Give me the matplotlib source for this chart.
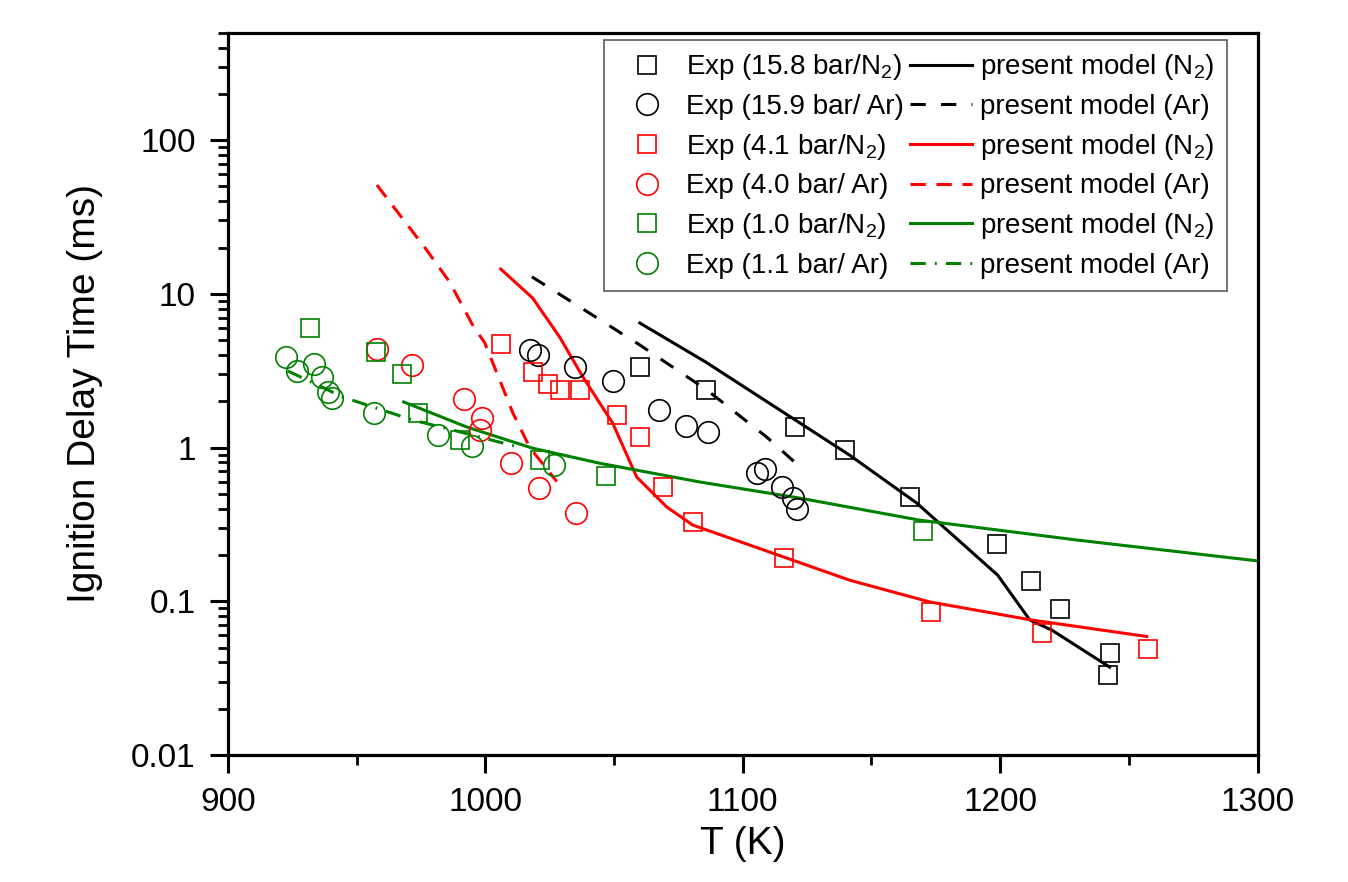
import numpy as np
import matplotlib
matplotlib.use("Agg")
import matplotlib.pyplot as plt
from matplotlib.ticker import LogLocator, MultipleLocator, FixedFormatter, FixedLocator

plt.rcParams['font.family'] = ['Liberation Sans', 'DejaVu Sans']
plt.rcParams['mathtext.fontset'] = 'custom'
plt.rcParams['mathtext.rm'] = 'Liberation Sans'
plt.rcParams['mathtext.it'] = 'Liberation Sans'

# experiments, 15.8 bar / N2
T_exp_158_n2 = [1060.0, 1085.6, 1120.2, 1139.6, 1164.9, 1198.6, 1211.8, 1223.1, 1242.5, 1241.7]
tau_exp_158_n2 = [3.34, 2.37, 1.36, 0.96, 0.48, 0.235, 0.135, 0.089, 0.046, 0.033]
# experiments, 15.9 bar / Ar
T_exp_159_ar = [1017.3, 1020.4, 1034.8, 1049.5, 1067.4, 1077.9, 1086.4, 1105.4, 1108.5, 1115.1, 1119.4, 1121.0]
tau_exp_159_ar = [4.3, 4.0, 3.34, 2.71, 1.75, 1.38, 1.26, 0.68, 0.72, 0.55, 0.47, 0.40]
# experiments, 4.1 bar / N2
T_exp_41_n2 = [1006.0, 1018.4, 1024.3, 1028.9, 1036.7, 1051.1, 1060.0, 1068.9, 1080.6, 1115.9, 1173.0, 1216.1, 1257.3]
tau_exp_41_n2 = [4.71, 3.10, 2.59, 2.37, 2.37, 1.63, 1.17, 0.553, 0.327, 0.191, 0.085, 0.062, 0.049]
# experiments, 4.0 bar / Ar
T_exp_40_ar = [957.9, 971.5, 991.7, 998.6, 998.1, 1009.9, 1020.8, 1035.1]
tau_exp_40_ar = [4.38, 3.44, 2.07, 1.56, 1.30, 0.79, 0.545, 0.375]
# experiments, 1.0 bar / N2
T_exp_10_n2 = [931.8, 957.5, 967.6, 973.8, 990.1, 1021.2, 1046.8, 1169.9]
tau_exp_10_n2 = [5.98, 4.18, 3.01, 1.68, 1.12, 0.83, 0.65, 0.286]
# experiments, 1.1 bar / Ar
T_exp_11_ar = [922.5, 926.8, 933.4, 936.5, 938.8, 940.4, 956.7, 981.6, 994.8, 1026.6]
tau_exp_11_ar = [3.88, 3.15, 3.49, 2.88, 2.30, 2.10, 1.68, 1.21, 1.02, 0.77]

# model curves
T_mod_158_n2 = [1060.0, 1085.6, 1141.6, 1167.6, 1199.0, 1211.5, 1220.0, 1242.5]
tau_mod_158_n2 = [6.46, 3.6, 0.89, 0.435, 0.148, 0.0755, 0.065, 0.0373]
T_mod_159_ar = [1018.1, 1035.5, 1060.0, 1086.0, 1109.3, 1121.4]
tau_mod_159_ar = [12.9, 8.45, 4.65, 2.37, 1.17, 0.77]
T_mod_41_n2 = [1006.0, 1018.4, 1028.9, 1037.9, 1049.5, 1058.8, 1070.5, 1080.6, 1141.6, 1172.6, 1212.2, 1256.9]
tau_mod_41_n2 = [14.5, 9.38, 5.23, 2.88, 1.44, 0.643, 0.41, 0.313, 0.137, 0.099, 0.0755, 0.059]
T_mod_40_ar = [957.9, 977.3, 986.2, 995.1, 999.8, 1005.6, 1010.7, 1017.3, 1027.8]
tau_mod_40_ar = [51.0, 19.2, 11.9, 6.26, 4.79, 2.75, 1.68, 1.0, 0.60]
T_mod_10_n2 = [968.3, 992.8, 1018.4, 1044.5, 1083.3, 1122.1, 1168.7, 1230.0, 1300.0]
tau_mod_10_n2 = [1.98, 1.36, 0.99, 0.79, 0.597, 0.469, 0.337, 0.25, 0.183]
T_mod_11_ar = [923.3, 944.7, 971.8, 987.4, 1012.6]
tau_mod_11_ar = [3.15, 2.13, 1.51, 1.30, 1.01]

exp_labels = ["Exp (15.8 bar/N$_2$)", "Exp (15.9 bar/ Ar)", "Exp (4.1 bar/N$_2$)",
              "Exp (4.0 bar/ Ar)", "Exp (1.0 bar/N$_2$)", "Exp (1.1 bar/ Ar)"]
mod_labels = ["present model (N$_2$)", "present model (Ar)"] * 3

green = "#008000"

fig = plt.figure(figsize=(13.48, 8.82), dpi=100)
ax = fig.add_axes([0.169, 0.144, 0.764, 0.819])

lw = 2.2
l1, = ax.plot(T_mod_158_n2, tau_mod_158_n2, color="black", lw=lw)
l2, = ax.plot(T_mod_159_ar, tau_mod_159_ar, color="black", lw=lw, dashes=(5, 5))
l3, = ax.plot(T_mod_41_n2, tau_mod_41_n2, color="red", lw=lw)
l4, = ax.plot(T_mod_40_ar, tau_mod_40_ar, color="red", lw=lw, dashes=(5, 3.5))
l5, = ax.plot(T_mod_10_n2, tau_mod_10_n2, color=green, lw=lw)
l6, = ax.plot(T_mod_11_ar, tau_mod_11_ar, color=green, lw=lw, dashes=(5, 3, 0.6, 3))

msq = 13.5
mci = 15.5
mew = 1.2
kw = dict(ls="none", mfc="none", mew=mew)
s1, = ax.plot(T_exp_158_n2, tau_exp_158_n2, marker="s", ms=msq, mec="black", **kw)
s2, = ax.plot(T_exp_159_ar, tau_exp_159_ar, marker="o", ms=mci, mec="black", **kw)
s3, = ax.plot(T_exp_41_n2, tau_exp_41_n2, marker="s", ms=msq, mec="red", **kw)
s4, = ax.plot(T_exp_40_ar, tau_exp_40_ar, marker="o", ms=mci, mec="red", **kw)
s5, = ax.plot(T_exp_10_n2, tau_exp_10_n2, marker="s", ms=msq, mec=green, **kw)
s6, = ax.plot(T_exp_11_ar, tau_exp_11_ar, marker="o", ms=mci, mec=green, **kw)

ax.set_yscale("log")
ax.set_xlim(900, 1300)
ax.set_ylim(0.01, 500)

ax.xaxis.set_major_locator(MultipleLocator(100))
ax.xaxis.set_minor_locator(MultipleLocator(50))
ax.yaxis.set_major_locator(FixedLocator([0.01, 0.1, 1, 10, 100]))
ax.yaxis.set_major_formatter(FixedFormatter(["0.01", "0.1", "1", "10", "100"]))
ax.yaxis.set_minor_locator(LogLocator(base=10, subs=np.arange(2, 10), numticks=20))
ax.yaxis.set_minor_formatter(plt.NullFormatter())

for sp in ax.spines.values():
    sp.set_linewidth(2.3)
ax.tick_params(which="major", direction="out", length=13, width=2.2, labelsize=24, top=False, right=False)
ax.tick_params(which="minor", direction="out", length=7, width=2.0, top=False, right=False)
ax.tick_params(axis="y", which="major", pad=10)
ax.tick_params(axis="x", which="major", pad=10)

ax.set_xlabel("T (K)", fontsize=28, labelpad=6)
ax.set_ylabel("Ignition Delay Time (ms)", fontsize=28, labelpad=20)

handles = [s1, s2, s3, s4, s5, s6, l1, l2, l3, l4, l5, l6]
labels = exp_labels + mod_labels
leg = ax.legend(handles, labels, ncol=2, loc="upper left", bbox_to_anchor=(0.365, 0.99),
                fontsize=20, handlelength=2.2, handletextpad=0.3, columnspacing=0.25,
                labelspacing=0.42, borderpad=0.45, frameon=True, fancybox=False,
                borderaxespad=0.0)
leg.get_frame().set_edgecolor("#333333")
leg.get_frame().set_linewidth(1.2)

fig.savefig("out.png", dpi=100)
